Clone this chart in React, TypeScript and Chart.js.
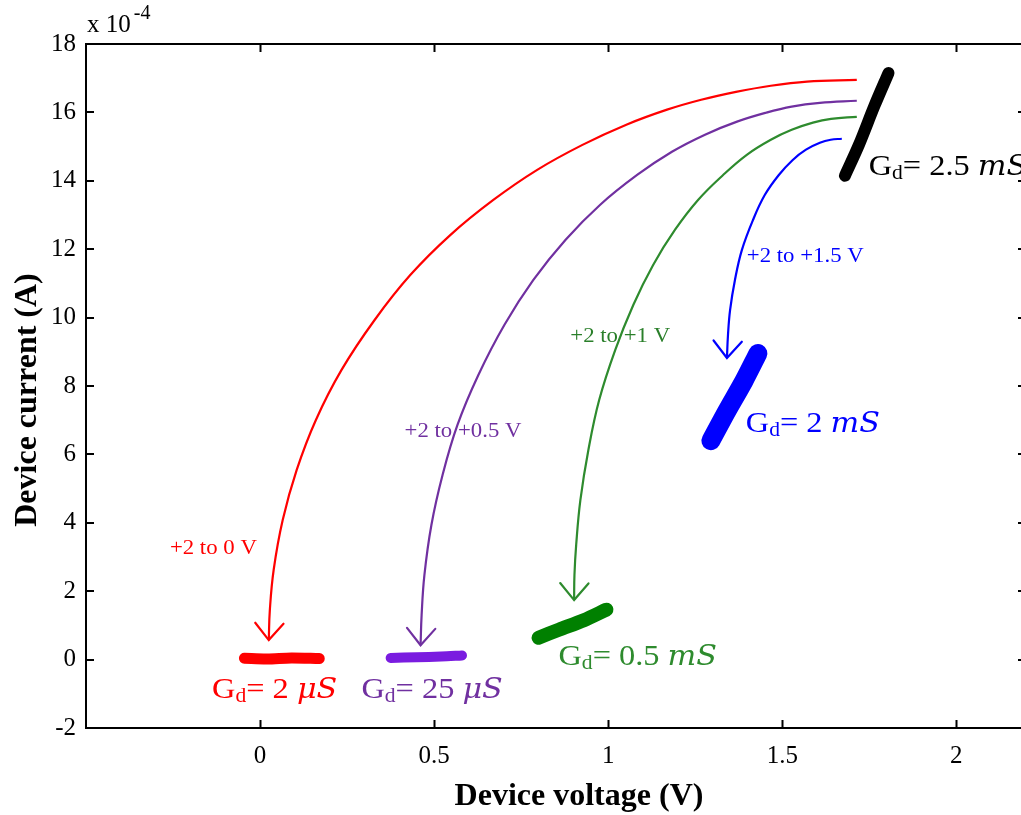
import React, { useEffect, useRef } from 'react';
import { Chart, registerables } from 'chart.js';

Chart.register(...registerables);

// ---- axis ticks ----
const xTickValues = [0, 0.5, 1, 1.5, 2];
const yTickValues = [-2, 0, 2, 4, 6, 8, 10, 12, 14, 16, 18];

// ---- transition arrows (device voltage V, device current x1e-4 A) ----
const arrowRed = [
  [1.714, 16.95], [1.571, 16.9], [1.467, 16.78], [1.367, 16.6], [1.267, 16.37],
  [1.169, 16.08], [1.052, 15.64], [0.926, 15.05], [0.796, 14.32], [0.67, 13.44],
  [0.547, 12.42], [0.432, 11.25], [0.329, 9.93], [0.234, 8.47], [0.16, 7.0],
  [0.105, 5.54], [0.065, 4.08], [0.039, 2.62], [0.028, 1.44], [0.025, 0.57],
];
const arrowPurple = [
  [1.714, 16.34], [1.608, 16.28], [1.527, 16.17], [1.453, 15.99], [1.37, 15.73],
  [1.278, 15.35], [1.183, 14.85], [1.083, 14.17], [0.977, 13.3], [0.877, 12.27],
  [0.785, 11.1], [0.702, 9.79], [0.627, 8.32], [0.567, 6.86], [0.524, 5.39],
  [0.492, 3.93], [0.472, 2.47], [0.464, 1.3], [0.461, 0.42],
];
const arrowGreen = [
  [1.714, 15.87], [1.64, 15.81], [1.588, 15.7], [1.527, 15.49], [1.467, 15.2],
  [1.398, 14.76], [1.33, 14.17], [1.258, 13.44], [1.192, 12.57], [1.129, 11.54],
  [1.072, 10.37], [1.02, 9.05], [0.974, 7.59], [0.943, 6.13], [0.92, 4.66],
  [0.908, 3.36], [0.903, 2.47], [0.902, 1.74],
];
const arrowBlue = [
  [1.671, 15.23], [1.639, 15.2], [1.608, 15.11], [1.568, 14.91], [1.53, 14.61],
  [1.49, 14.17], [1.45, 13.59], [1.416, 12.86], [1.384, 11.98], [1.364, 11.1],
  [1.35, 10.22], [1.344, 9.49], [1.341, 8.82],
];

// ---- measured I-V traces ----
const traceRed = [[-0.045, 0.04], [0.02, 0.02], [0.09, 0.05], [0.17, 0.03]];
const tracePurple = [[0.375, 0.05], [0.45, 0.07], [0.52, 0.09], [0.58, 0.12]];
const traceGreen = [[0.8, 0.64], [0.86, 0.88], [0.93, 1.15], [0.995, 1.46]];
const traceBlue = [[1.295, 6.4], [1.34, 7.25], [1.39, 8.15], [1.43, 8.95]];
const traceBlack = [[1.68, 14.15], [1.72, 15.05], [1.765, 16.2], [1.805, 17.15]];

// ---- annotation text ----
const rangeLabels = [
  { text: '+2 to 0 V', x: -0.259, y: 3.23, color: '#ff0000' },
  { text: '+2 to +0.5 V', x: 0.415, y: 6.65, color: '#7030a0' },
  { text: '+2 to +1 V', x: 0.891, y: 9.43, color: '#2a7f2a' },
  { text: '+2 to +1.5 V', x: 1.398, y: 11.78, color: '#0000ff' },
];
const gdLabels = [
  { value: '2', unit: 'μS', x: -0.138, y: -0.84, color: '#ff0000' },
  { value: '25', unit: 'μS', x: 0.291, y: -0.84, color: '#7030a0' },
  { value: '0.5', unit: 'mS', x: 0.857, y: 0.13, color: '#2e8b2e' },
  { value: '2', unit: 'mS', x: 1.395, y: 6.95, color: '#0000ff' },
  { value: '2.5', unit: 'mS', x: 1.748, y: 14.47, color: '#000000' },
];

const toPts = (arr: number[][]) => arr.map(([x, y]) => ({ x, y }));

const SERIF = '"Liberation Serif", "Times New Roman", serif';
const STRETCH = 1.14;

const overlayPlugin = {
  id: 'overlay',
  afterDatasetsDraw(chart: any) {
    const { ctx } = chart;
    const xs = chart.scales.x;
    const ys = chart.scales.y;
    // arrowheads
    chart.data.datasets.forEach((ds: any, i: number) => {
      if (!ds.isArrow) return;
      const meta = chart.getDatasetMeta(i);
      const pts = meta.data;
      const p1 = pts[pts.length - 1];
      const p0 = pts[pts.length - 2];
      const ang = Math.atan2(p1.y - p0.y, p1.x - p0.x);
      const len = 22;
      const spread = (40 * Math.PI) / 180;
      ctx.save();
      ctx.strokeStyle = ds.borderColor;
      ctx.lineWidth = 2.2;
      ctx.lineCap = 'round';
      ctx.beginPath();
      ctx.moveTo(p1.x - len * Math.cos(ang - spread), p1.y - len * Math.sin(ang - spread));
      ctx.lineTo(p1.x, p1.y);
      ctx.lineTo(p1.x - len * Math.cos(ang + spread), p1.y - len * Math.sin(ang + spread));
      ctx.stroke();
      ctx.restore();
    });
    // range labels
    rangeLabels.forEach((l) => {
      const px = xs.getPixelForValue(l.x);
      const py = ys.getPixelForValue(l.y);
      ctx.save();
      ctx.translate(px, py);
      ctx.scale(STRETCH, 1);
      ctx.font = `20px ${SERIF}`;
      ctx.fillStyle = l.color;
      ctx.textAlign = 'left';
      ctx.textBaseline = 'middle';
      ctx.fillText(l.text, 0, 0);
      ctx.restore();
    });
    // G_d labels
    gdLabels.forEach((l) => {
      const px = xs.getPixelForValue(l.x);
      const py = ys.getPixelForValue(l.y);
      ctx.save();
      ctx.translate(px, py + 10);
      ctx.scale(1.08, 1);
      ctx.fillStyle = l.color;
      ctx.textAlign = 'left';
      ctx.textBaseline = 'alphabetic';
      let cx = 0;
      ctx.font = `30px ${SERIF}`;
      ctx.fillText('G', cx, 0);
      cx += ctx.measureText('G').width;
      ctx.font = `20px ${SERIF}`;
      ctx.fillText('d', cx, 4);
      cx += ctx.measureText('d').width;
      ctx.font = `30px ${SERIF}`;
      const mid = '= ' + l.value + ' ';
      ctx.fillText(mid, cx, 0);
      cx += ctx.measureText(mid).width;
      ctx.font = `italic 28px "DejaVu Serif", ${SERIF}`;
      ctx.fillText(l.unit, cx, 0);
      ctx.restore();
    });
  },
  afterDraw(chart: any) {
    const { ctx, chartArea } = chart;
    const { left, right, top, bottom } = chartArea;
    const xs = chart.scales.x;
    const ys = chart.scales.y;
    ctx.save();
    ctx.strokeStyle = '#000';
    ctx.lineWidth = 2;
    ctx.beginPath();
    ctx.moveTo(left, top);
    ctx.lineTo(right, top);
    ctx.lineTo(right, bottom);
    ctx.lineTo(left, bottom);
    ctx.closePath();
    ctx.stroke();
    const tl = 8;
    ctx.beginPath();
    xTickValues.forEach((v) => {
      const px = Math.round(xs.getPixelForValue(v)) + 0.5;
      ctx.moveTo(px, bottom);
      ctx.lineTo(px, bottom - tl);
      ctx.moveTo(px, top);
      ctx.lineTo(px, top + tl);
    });
    yTickValues.forEach((v) => {
      const py = Math.round(ys.getPixelForValue(v));
      ctx.moveTo(left, py);
      ctx.lineTo(left + tl, py);
      ctx.moveTo(right, py);
      ctx.lineTo(right - tl, py);
    });
    ctx.stroke();
    // exponent
    ctx.fillStyle = '#000';
    ctx.textAlign = 'left';
    ctx.textBaseline = 'alphabetic';
    ctx.font = `25px ${SERIF}`;
    ctx.fillText('x 10', left + 1, 32);
    const w = ctx.measureText('x 10').width;
    ctx.font = `20px ${SERIF}`;
    ctx.fillText('-4', left + 1 + w + 3, 19);
    // axis titles
    ctx.font = `bold 32px ${SERIF}`;
    ctx.textAlign = 'center';
    ctx.textBaseline = 'middle';
    ctx.fillText('Device voltage (V)', 579, 797);
    ctx.save();
    ctx.translate(28, 400);
    ctx.rotate(-Math.PI / 2);
    ctx.fillText('Device current (A)', 0, 0);
    ctx.restore();
    ctx.restore();
  },
};

export default function App() {
  const canvasRef = useRef<HTMLCanvasElement | null>(null);

  useEffect(() => {
    const canvas = canvasRef.current;
    if (!canvas) return;

    const arrow = (data: number[][], color: string) => ({
      data: toPts(data),
      isArrow: true,
      showLine: true,
      borderColor: color,
      backgroundColor: color,
      borderWidth: 2.2,
      pointRadius: 0,
      tension: 0.4,
      fill: false,
    });
    const trace = (data: number[][], color: string, width: number) => ({
      data: toPts(data),
      showLine: true,
      borderColor: color,
      backgroundColor: color,
      borderWidth: width,
      borderCapStyle: 'round',
      borderJoinStyle: 'round',
      pointRadius: 0,
      tension: 0.3,
      fill: false,
    });

    const chart = new Chart(canvas, {
      type: 'scatter',
      data: {
        datasets: [
          arrow(arrowRed, '#ff0000'),
          arrow(arrowPurple, '#7030a0'),
          arrow(arrowGreen, '#2e8b2e'),
          arrow(arrowBlue, '#0000ff'),
          trace(traceRed, '#ff0000', 11),
          trace(tracePurple, '#7a1ce0', 10),
          trace(traceGreen, '#008000', 14),
          trace(traceBlue, '#0000ff', 19),
          trace(traceBlack, '#000000', 12),
        ] as any,
      },
      options: {
        animation: false,
        responsive: false,
        devicePixelRatio: 1,
        layout: { padding: { left: 0, top: 44, right: 4, bottom: 0 } },
        plugins: {
          legend: { display: false },
          tooltip: { enabled: false },
        },
        scales: {
          x: {
            type: 'linear',
            min: -0.5,
            max: 2.2,
            grid: { display: false, drawTicks: false },
            border: { display: false },
            afterBuildTicks: (scale: any) => {
              scale.ticks = xTickValues.map((v) => ({ value: v }));
            },
            afterFit: (scale: any) => {
              scale.height = 87;
            },
            ticks: {
              padding: 13,
              color: '#000',
              font: { family: SERIF, size: 25 },
              maxRotation: 0,
              autoSkip: false,
              callback: (v: any) => String(v),
            },
          },
          y: {
            type: 'linear',
            min: -2,
            max: 18,
            grid: { display: false, drawTicks: false },
            border: { display: false },
            afterBuildTicks: (scale: any) => {
              scale.ticks = yTickValues.map((v) => ({ value: v }));
            },
            afterFit: (scale: any) => {
              scale.width = 86;
            },
            ticks: {
              padding: 10,
              color: '#000',
              font: { family: SERIF, size: 25 },
              autoSkip: false,
              callback: (v: any) => String(v),
            },
          },
        },
      },
      plugins: [overlayPlugin],
    } as any);

    return () => chart.destroy();
  }, []);

  return (
    <div
      style={{
        position: 'fixed',
        left: 0,
        top: 0,
        width: 1021,
        height: 815,
        overflow: 'hidden',
        background: '#fff',
      }}
    >
      <canvas ref={canvasRef} width={1030} height={815} style={{ display: 'block' }} />
    </div>
  );
}
